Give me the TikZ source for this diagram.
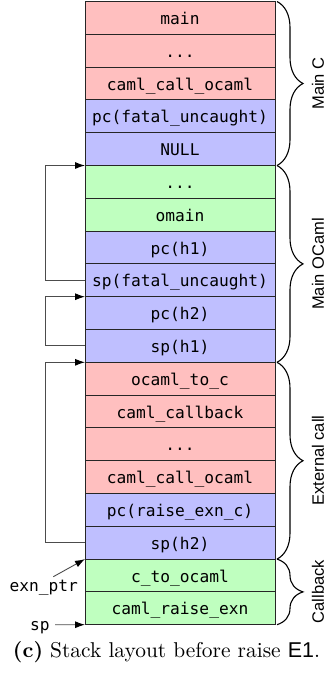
\documentclass[tikz,border=0pt]{standalone}
\usepackage{fontspec}
\usepackage{graphicx}
\newfontfamily\monof{DejaVu Sans Mono}
\newfontfamily\labf{Liberation Sans}
\usetikzlibrary{arrows.meta,decorations.pathreplacing}
\definecolor{cred}{HTML}{FFBFBF}
\definecolor{cblue}{HTML}{BFBFFF}
\definecolor{cgreen}{HTML}{BFFFBF}
\newcommand\stkdots{.{}.{}.}
\begin{document}
\begin{tikzpicture}[x=1pt,y=1pt,
  cell/.style={draw=black!85, line width=0.9pt, minimum width=190pt, minimum height=32.8pt,
    inner sep=0pt, outer sep=0pt, text height=13.2pt, text depth=0pt,
    font=\monof\fontsize{16.2}{18}\selectfont},
  txt/.style={inner sep=0pt, anchor=base, font=\monof\fontsize{16.2}{18}\selectfont},
  conn/.style={draw=black!70, line width=0.9pt, -{Latex[length=10pt,width=7pt,color=black]}},
  brc/.style={draw=black, decorate, decoration={brace, amplitude=26pt}, line width=1.1pt},
  lab/.style={rotate=90, inner sep=0pt, font=\labf\fontsize{16.5}{18}\selectfont}]
\useasboundingbox (0,0) rectangle (328,-678);
\foreach \t/\cc [count=\i] in {
  main/cred, \stkdots/cred, caml\_call\_ocaml/cred, pc(fatal\_uncaught)/cblue, NULL/cblue,
  \stkdots/cgreen, omain/cgreen, pc(h1)/cblue, sp(fatal\_uncaught)/cblue, pc(h2)/cblue, sp(h1)/cblue,
  ocaml\_to\_c/cred, caml\_callback/cred, \stkdots/cred, caml\_call\_ocaml/cred, pc(raise\_exn\_c)/cblue, sp(h2)/cblue,
  c\_to\_ocaml/cgreen, caml\_raise\_exn/cgreen}
  \node[cell, fill=\cc] (r\i) at (180,{-1.5-(\i-0.5)*32.8}) {\t};

% braces
\draw[brc] ([xshift=2pt]r1.north east) -- ([xshift=2pt]r5.south east);
\draw[brc] ([xshift=2pt]r6.north east) -- ([xshift=2pt]r11.south east);
\draw[brc] ([xshift=2pt]r12.north east) -- ([xshift=2pt]r17.south east);
\draw[brc] ([xshift=2pt]r18.north east) -- ([xshift=2pt]r19.south east);
\node[lab] (lmc) at (318,-83.5) {Main C};
\node[lab] (lmo) at (318,-263.9) {Main OCaml};
\node[lab] (lec) at (318,-460.5) {External call};
\node[lab] (lcb) at (318,-591.7) {Callback};

% connectors
\draw[conn] (r9.west) -- ++(-40,0) |- (r6.north west);
\draw[conn] (r11.west) -- ++(-40,0) |- (r10.north west);
\draw[conn] (r17.west) -- ++(-40,0) |- (r12.north west);

\node[txt] (exn) at (43.7,-591.5) {exn\_ptr};
\coordinate (e0) at (53.3,-576.7);
\draw[conn] (e0) -- (r18.north west);
\node[txt] (sp) at (40,-630) {sp};
\coordinate (s0) at (55,-624.7);
\draw[conn] (s0) -- (r19.south west);

\node[inner sep=0pt] (cap) at (166.5,-652) {\resizebox{307pt}{!}{\textbf{(c)} Stack layout before raise {\labf E1}.}};
\end{tikzpicture}
\end{document}
